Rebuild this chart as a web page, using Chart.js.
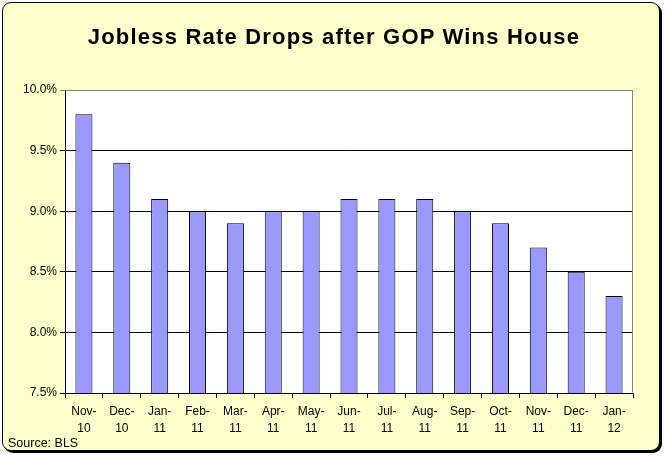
<!DOCTYPE html>
<html>
<head>
<meta charset="utf-8">
<script src="https://cdn.jsdelivr.net/npm/chart.js@4"></script>
<style>
  html, body { margin: 0; padding: 0; background: #ffffff; }
  #wrap { position: relative; width: 665px; height: 456px; }
  #frame { position: absolute; left: 2px; top: 2px; width: 656px; height: 447px; background: #FFFFCC; border: 1px solid #000; border-radius: 9px; box-shadow: 2px 2px 0 #000; }
  #c { position: absolute; left: 0; top: 0; }
  #title { position: absolute; left: 0; top: 24px; width: 668px; text-align: center; font: bold 22px/26px "Liberation Sans", Arial, sans-serif; letter-spacing: 1.2px; color: #000; }
  #src { position: absolute; left: 8px; top: 436px; font: 12.5px "Liberation Sans", Arial, sans-serif; color: #000; }
</style>
</head>
<body>
<div id="wrap">
  <div id="frame"></div>
  <canvas id="c" width="665" height="456"></canvas>
  <div id="title"></div>
  <div id="src">Source: BLS</div>
</div>
<script>
const categories = [["Nov-","10"],["Dec-","10"],["Jan-","11"],["Feb-","11"],["Mar-","11"],["Apr-","11"],["May-","11"],["Jun-","11"],["Jul-","11"],["Aug-","11"],["Sep-","11"],["Oct-","11"],["Nov-","11"],["Dec-","11"],["Jan-","12"]];
const joblessRate = [9.8, 9.4, 9.1, 9.0, 8.9, 9.0, 9.0, 9.1, 9.1, 9.1, 9.0, 8.9, 8.7, 8.5, 8.3];
const yMin = 7.5, yMax = 10.0, yStep = 0.5;
const titleText = "Jobless Rate Drops after GOP Wins House";
document.getElementById('title').textContent = titleText;

const plotBg = {
  id: 'plotBg',
  beforeDraw(chart) {
    const {ctx, chartArea: a} = chart;
    ctx.save();
    ctx.fillStyle = '#ffffff';
    ctx.fillRect(a.left, a.top, a.right - a.left, a.bottom - a.top);
    ctx.restore();
  },
  afterDatasetsDraw(chart) {
    const {ctx, chartArea: a} = chart;
    ctx.save();
    ctx.strokeStyle = '#808080';
    ctx.lineWidth = 1;
    ctx.beginPath();
    ctx.moveTo(a.left, a.top + 0.5);
    ctx.lineTo(a.right - 0.5, a.top + 0.5);
    ctx.lineTo(a.right - 0.5, a.bottom);
    ctx.stroke();
    ctx.restore();
  }
};

Chart.defaults.font.family = '"Liberation Sans", Arial, sans-serif';
Chart.defaults.color = '#000';

new Chart(document.getElementById('c'), {
  type: 'bar',
  data: {
    labels: categories,
    datasets: [{
      data: joblessRate,
      backgroundColor: '#9999FF',
      borderColor: '#000000',
      borderWidth: 1,
      barPercentage: 0.9,
      categoryPercentage: 0.5
    }]
  },
  options: {
    responsive: false,
    animation: false,
    layout: { padding: { left: 0, right: 32, top: 90, bottom: 0 } },
    plugins: {
      legend: { display: false },
      tooltip: { enabled: false },
      title: { display: false }
    },
    scales: {
      x: {
        grid: { drawOnChartArea: false, drawTicks: true, tickLength: 5, color: '#000' },
        border: { color: '#000', width: 1 },
        ticks: { font: { size: 12, lineHeight: 1.45 }, maxRotation: 0, autoSkip: false, padding: 5 },
        afterFit(s) { s.height = 63; }
      },
      y: {
        min: yMin, max: yMax,
        grid: {
          color: (c) => (c.tick && c.tick.value >= yMax - 1e-9) ? '#808080' : '#000',
          tickLength: 5
        },
        border: { color: '#000', width: 1 },
        ticks: {
          stepSize: yStep,
          font: { size: 12 },
          padding: 3,
          callback: (v) => Number(v).toFixed(1) + '%'
        },
        afterFit(s) { s.width = 65; }
      }
    }
  },
  plugins: [plotBg]
});
</script>
</body>
</html>
